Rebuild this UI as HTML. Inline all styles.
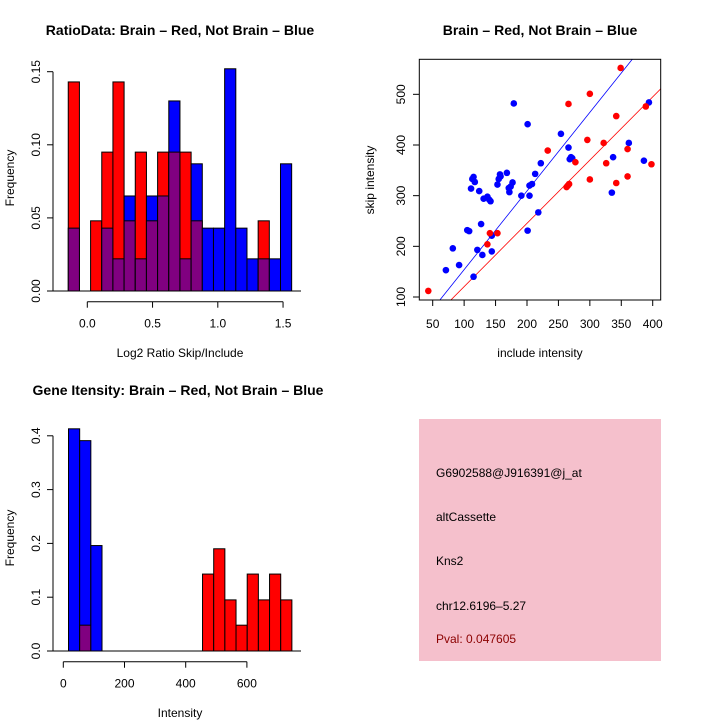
<!DOCTYPE html>
<html><head><meta charset="utf-8"><style>
body{margin:0;background:#fff}
svg{display:block;font-family:"Liberation Sans",sans-serif}
</style></head><body>
<svg id="c" width="720" height="720" viewBox="0 0 720 720">
<rect width="720" height="720" fill="#fff"/>
</svg>
<script>
// ---- Panel 1: ratio histogram
const ratioStart = -0.146, ratioWidth = 0.0856;
const ratioRed  = [0.143,0,0.048,0.095,0.143,0.048,0.095,0.048,0.095,0.095,0.095,0.048,0,0,0,0,0,0.048,0,0];
const ratioBlue = [0.043,0,0,0.043,0.022,0.065,0.022,0.065,0.065,0.130,0.022,0.087,0.043,0.043,0.152,0.043,0.022,0.022,0.022,0.087];
const ratioYTicks = [0,0.05,0.10,0.15];
const ratioYLabels = ["0.00","0.05","0.10","0.15"];
const ratioXTicks = [0,0.5,1.0,1.5];
const ratioXLabels = ["0.0","0.5","1.0","1.5"];
// ---- Panel 2: scatter
const blueInc  = [179,201,254,266,270,272,268,222,213,208,204,191,204,218,201,168,157,158,155,153,177,174,171,172,115,113,117,111,124,131,137,140,142,127,105,108,144,121,129,144,82,92,71,115,335,337,362,386,394];
const blueSkip = [482,441,422,395,376,374,372,364,343,323,320,300,300,267,231,345,342,338,333,322,326,318,315,307,337,333,327,314,309,294,298,292,289,244,232,230,221,193,183,190,196,163,153,140,306,376,404,369,484];
const redInc  = [43,349,300,266,342,233,296,322,277,326,360,389,398,360,342,300,267,263,265,141,153,137];
const redSkip = [112,552,501,481,457,389,410,404,366,364,392,476,362,338,325,332,323,317,320,226,226,204];
const blueFit = [-1.2,1.552];
const redFit = [-4.4,1.2485];
const scXTicks = [50,100,150,200,250,300,350,400];
const scYTicks = [100,200,300,400,500];
// ---- Panel 3: intensity histogram
const intStart = 17, intWidth = 36.5;
const intBlue = [0.413,0.391,0.196,0,0,0,0,0,0,0,0,0,0,0,0,0,0,0,0,0];
const intRed  = [0,0.048,0,0,0,0,0,0,0,0,0,0,0.143,0.19,0.095,0.048,0.143,0.095,0.143,0.095];
const intYTicks = [0,0.1,0.2,0.3,0.4];
const intYLabels = ["0.0","0.1","0.2","0.3","0.4"];
const intXTicks = [0,200,400,600];

const svg = document.getElementById('c');
const NS = 'http://www.w3.org/2000/svg';
function mk(tag, attrs, parent){const e=document.createElementNS(NS,tag);for(const k in attrs)e.setAttribute(k,attrs[k]);(parent||svg).appendChild(e);return e;}
function txt(s,x,y,size,extra){const t=mk('text',Object.assign({x:x,y:y,'font-size':size,'text-anchor':'middle'},extra||{}));t.textContent=s;return t;}

function histogram(g, start, width, red, blue, X, Y, name){
  for(let i=0;i<red.length;i++){
    const x0=X(start+i*width), x1=X(start+(i+1)*width);
    const r=red[i], b=blue[i];
    const hi=Math.max(r,b), lo=Math.min(r,b);
    if(hi>0){
      const bar=mk('rect',{x:x0,y:Y(hi),width:x1-x0,height:Y(0)-Y(hi),fill:r>=b?'#ff0000':'#0000ff',stroke:'#000','stroke-width':1},g);
      
      
    }
    if(lo>0){
      const ov=mk('rect',{x:x0,y:Y(lo),width:x1-x0,height:Y(0)-Y(lo),fill:'#800080',stroke:'#000','stroke-width':1},g);
      
      
    }
  }
}
function yaxis(g,ticks,labels,Y,ax){
  mk('line',{x1:ax,x2:ax,y1:Y(ticks[0]),y2:Y(ticks[ticks.length-1]),stroke:'#000'},g);
  ticks.forEach((v,i)=>{mk('line',{x1:ax-6,x2:ax,y1:Y(v),y2:Y(v),stroke:'#000'},g);
    txt(labels[i],ax-13,Y(v),12,{transform:`rotate(-90 ${ax-13} ${Y(v)})`},g).setAttribute('dy','0');});
}
function xaxis(g,ticks,labels,X,ay){
  mk('line',{x1:X(ticks[0]),x2:X(ticks[ticks.length-1]),y1:ay,y2:ay,stroke:'#000'},g);
  ticks.forEach((v,i)=>{mk('line',{x1:X(v),x2:X(v),y1:ay,y2:ay+6,stroke:'#000'},g);
    const t=txt(labels[i],X(v),ay+26,12);g.appendChild(t);});
}

// Panel 1
{
  const g=mk('g',{});
  const X=v=>87.3+v*130.5, Y=v=>291-v*1462;
  histogram(g,ratioStart,ratioWidth,ratioRed,ratioBlue,X,Y,'ratio');
  mk('line',{x1:53,x2:301,y1:291,y2:291,stroke:'#000'},g);
  yaxis(g,ratioYTicks,ratioYLabels,Y,53);
  xaxis(g,ratioXTicks,ratioXLabels,X,301.7);
  const t=txt('RatioData: Brain \u2013 Red, Not Brain \u2013 Blue',180,35,14,{'font-weight':'bold'});
  txt('Log2 Ratio Skip/Include',180,357,12);
  txt('Frequency',14,178,12,{transform:'rotate(-90 14 178)'});
}
// Panel 2
{
  const g=mk('g',{});
  const X=v=>432.7+(v-50)*0.6286, Y=v=>297-(v-100)*0.5067;
  mk('clipPath',{id:'sc'},g).appendChild(Object.assign(document.createElementNS(NS,'rect'),{}));
  const cr=document.querySelector('#sc rect');['x','y','width','height'].forEach((k,i)=>cr.setAttribute(k,[419.3,59.3,241.4,240.7][i]));
  [[blueFit,'#0000ff','blue-fit-line'],[redFit,'#ff0000','red-fit-line']].forEach(([f,c,n])=>{
    const l=mk('line',{x1:X(0),y1:Y(f[0]),x2:X(500),y2:Y(f[0]+f[1]*500),stroke:c,'stroke-width':0.8,'clip-path':'url(#sc)'},g);
    
    
  });
  blueInc.forEach((v,i)=>{const p=mk('circle',{cx:X(v),cy:Y(blueSkip[i]),r:3.3,fill:'#0000ff'},g);
    
    });
  redInc.forEach((v,i)=>{const p=mk('circle',{cx:X(v),cy:Y(redSkip[i]),r:3.3,fill:'#ff0000'},g);
    
    });
  mk('rect',{x:419.3,y:59.3,width:241.4,height:240.7,fill:'none',stroke:'#000'},g);
  scXTicks.forEach(v=>{mk('line',{x1:X(v),x2:X(v),y1:300,y2:306,stroke:'#000'},g);g.appendChild(txt(String(v),X(v),328,12));});
  scYTicks.forEach(v=>{mk('line',{x1:413,x2:419.3,y1:Y(v),y2:Y(v),stroke:'#000'},g);g.appendChild(txt(String(v),405,Y(v),12,{transform:`rotate(-90 405 ${Y(v)})`}));});
  const t=txt('Brain \u2013 Red, Not Brain \u2013 Blue',540,35,14,{'font-weight':'bold'});
  txt('include intensity',540,357,12);
  txt('skip intensity',374,180,12,{transform:'rotate(-90 374 180)'});
}
// Panel 3
{
  const g=mk('g',{});
  const X=v=>63.3+v*0.306, Y=v=>651-v*538;
  histogram(g,intStart,intWidth,intRed,intBlue,X,Y,'intensity');
  mk('line',{x1:53,x2:301,y1:651,y2:651,stroke:'#000'},g);
  yaxis(g,intYTicks,intYLabels,Y,53);
  xaxis(g,intXTicks,intXTicks.map(String),X,661.7);
  const t=txt('Gene Itensity: Brain \u2013 Red, Not Brain \u2013 Blue',178,395,14,{'font-weight':'bold'});
  txt('Intensity',180,717,12);
  txt('Frequency',14,538,12,{transform:'rotate(-90 14 538)'});
}
// Info box
{
  const g=mk('g',{});
  mk('rect',{x:419,y:419,width:242,height:242,fill:'#f5c0cc'},g);
  const lines=[['G6902588@J916391@j_at',477,'#000'],['altCassette',521,'#000'],['Kns2',565,'#000'],['chr12.6196\u20135.27',610,'#000'],['Pval: 0.047605',643,'#8b0000']];
  lines.forEach(([s,y,c])=>{const t=txt(s,436,y,12,{'text-anchor':'start',fill:c});g.appendChild(t);});
}
</script>
</body></html>
